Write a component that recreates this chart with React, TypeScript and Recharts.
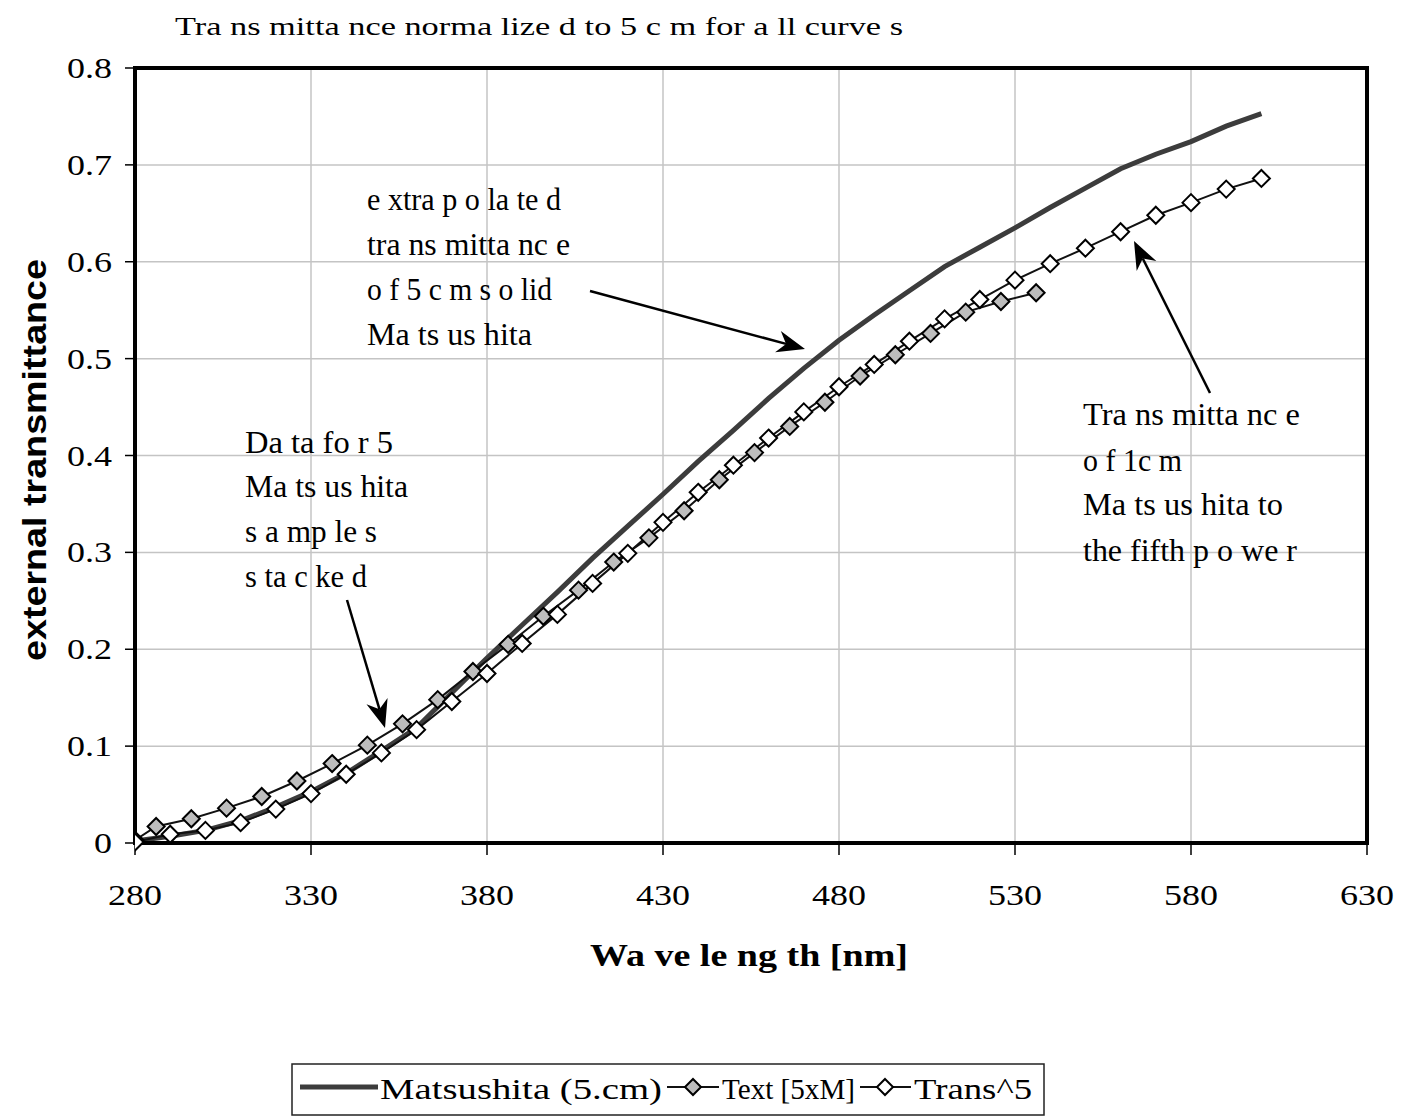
import { LineChart, Line, XAxis, YAxis, CartesianGrid, ReferenceArea } from 'recharts'

// Matsushita 5 cm (extrapolated), every 10 nm
const matsWavelength = [280, 290, 300, 310, 320, 330, 340, 350, 360, 370, 380, 390, 400, 410, 420, 430, 440, 450, 460, 470, 480, 490, 500, 510, 520, 530, 540, 550, 560, 570, 580, 590, 600]
const matsValues = [0.002, 0.007, 0.013, 0.023, 0.037, 0.053, 0.072, 0.095, 0.119, 0.155, 0.191, 0.225, 0.259, 0.294, 0.327, 0.360, 0.394, 0.426, 0.459, 0.490, 0.519, 0.545, 0.570, 0.595, 0.615, 0.635, 0.656, 0.676, 0.696, 0.711, 0.724, 0.740, 0.753]

// stacked samples
const textWavelength = [280, 286, 296, 306, 316, 326, 336, 346, 356, 366, 376, 386, 396, 406, 416, 426, 436, 446, 456, 466, 476, 486, 496, 506, 516, 526, 536]
const textValues = [0.003, 0.017, 0.025, 0.036, 0.048, 0.064, 0.082, 0.101, 0.123, 0.148, 0.177, 0.205, 0.234, 0.261, 0.290, 0.315, 0.343, 0.375, 0.403, 0.430, 0.455, 0.482, 0.504, 0.526, 0.548, 0.559, 0.568]

// 1 cm to the fifth power
const transWavelength = [280, 290, 300, 310, 320, 330, 340, 350, 360, 370, 380, 390, 400, 410, 420, 430, 440, 450, 460, 470, 480, 490, 500, 510, 520, 530, 540, 550, 560, 570, 580, 590, 600]
const transValues = [0.001, 0.009, 0.013, 0.021, 0.035, 0.051, 0.071, 0.093, 0.117, 0.146, 0.175, 0.206, 0.236, 0.268, 0.299, 0.331, 0.362, 0.390, 0.418, 0.445, 0.471, 0.494, 0.518, 0.541, 0.561, 0.581, 0.598, 0.614, 0.631, 0.648, 0.661, 0.675, 0.686]

const xTicks = [280, 330, 380, 430, 480, 530, 580, 630]
const yTicks = [0, 0.1, 0.2, 0.3, 0.4, 0.5, 0.6, 0.7, 0.8]
const xMinorTicks = [280, 290, 300, 310, 320, 330, 340, 350, 360, 370, 380, 390, 400, 410, 420, 430, 440, 450, 460, 470, 480, 490, 500, 510, 520, 530, 540, 550, 560, 570, 580, 590, 600, 610, 620, 630]
const yMinorTicks = [0, 0.02, 0.04, 0.06, 0.08, 0.1, 0.12, 0.14, 0.16, 0.18, 0.2, 0.22, 0.24, 0.26, 0.28, 0.3, 0.32, 0.34, 0.36, 0.38, 0.4, 0.42, 0.44, 0.46, 0.48, 0.5, 0.52, 0.54, 0.56, 0.58, 0.6, 0.62, 0.64, 0.66, 0.68, 0.7, 0.72, 0.74, 0.76, 0.78, 0.8]

const SERIF = '"Liberation Serif", Tinos, "Nimbus Roman", "DejaVu Serif", serif'
const SANS = '"Liberation Sans", Arial, sans-serif'

const toPoints = (xs: number[], ys: number[]) => xs.map((x, i) => ({ x, y: ys[i] }))

const matsData = toPoints(matsWavelength, matsValues)
const textData = toPoints(textWavelength, textValues)
const transData = toPoints(transWavelength, transValues)

function diamondPath(cx: number, cy: number, r: number) {
  return `M${cx},${cy - r}L${cx + r},${cy}L${cx},${cy + r}L${cx - r},${cy}Z`
}

function makeDot(fill: string) {
  return (props: any) => {
    const { cx, cy, index } = props
    if (cx == null || cy == null) return <g key={index} />
    return <path key={index} d={diamondPath(cx, cy, 8.5)} fill={fill} stroke="#000" strokeWidth={2} />
  }
}

// Times-like widths so the labels keep the width of the original
const labelWidth = (s: string) => s.split('').reduce((w, c) => w + (c === '.' ? 0.25 : 0.5), 0) * 36

function XTick(props: any) {
  const { x, y, payload } = props
  const s = String(payload.value)
  return (
    <text x={x} y={y + 22} textAnchor="middle" fontFamily={SERIF} fontSize={29} fill="#000" textLength={labelWidth(s)} lengthAdjust="spacingAndGlyphs">
      {s}
    </text>
  )
}

function YTick(props: any) {
  const { x, y, payload } = props
  const s = String(payload.value)
  return (
    <text x={x} y={y + 10} textAnchor="end" fontFamily={SERIF} fontSize={29} fill="#000" textLength={labelWidth(s)} lengthAdjust="spacingAndGlyphs">
      {s}
    </text>
  )
}

function Arrow({ x1, y1, x2, y2 }: { x1: number; y1: number; x2: number; y2: number }) {
  const dx = x2 - x1
  const dy = y2 - y1
  const len = Math.hypot(dx, dy)
  const ux = dx / len
  const uy = dy / len
  const hl = 28
  const hw = 11
  const bx = x2 - ux * hl
  const by = y2 - uy * hl
  const nx = x2 - ux * hl * 0.7
  const ny = y2 - uy * hl * 0.7
  const pts = `${x2},${y2} ${bx - uy * hw},${by + ux * hw} ${nx},${ny} ${bx + uy * hw},${by - ux * hw}`
  return (
    <g>
      <line x1={x1} y1={y1} x2={nx} y2={ny} stroke="#000" strokeWidth={2.5} />
      <polygon points={pts} fill="#000" />
    </g>
  )
}

function Note({ x, lines }: { x: number; lines: [string, number, number][] }) {
  return (
    <g>
      {lines.map(([t, y, w], i) => (
        <text key={i} x={x} y={y} fontFamily={SERIF} fontSize={31} textLength={w} lengthAdjust="spacingAndGlyphs" fill="#000">
          {t}
        </text>
      ))}
    </g>
  )
}

export default function App() {
  return (
    <div style={{ position: 'absolute', left: 0, top: 0, width: 1406, height: 1120, background: '#fff' }}>
      <LineChart
        width={1406}
        height={1120}
        margin={{ top: 68, right: 39, bottom: 217, left: 55 }}
        style={{ position: 'absolute', left: 0, top: 0 }}
      >
        <CartesianGrid stroke="#c4c4c4" strokeWidth={1.5} />
        <XAxis
          dataKey="x"
          type="number"
          domain={[280, 630]}
          ticks={xTicks}
          height={60}
          tickSize={12}
          tickMargin={28}
          axisLine={{ stroke: '#000', strokeWidth: 4 }}
          tickLine={{ stroke: '#000', strokeWidth: 1.5 }}
          tick={<XTick />}
          allowDataOverflow
        />
        <XAxis
          xAxisId="minor"
          dataKey="x"
          type="number"
          domain={[280, 630]}
          ticks={xMinorTicks}
          mirror
          tickSize={7}
          axisLine={false}
          tickLine={{ stroke: '#000', strokeWidth: 1.5 }}
          tickFormatter={() => ''}
        />
        <YAxis
          type="number"
          domain={[0, 0.8]}
          ticks={yTicks}
          width={80}
          tickSize={10}
          tickMargin={13}
          axisLine={{ stroke: '#000', strokeWidth: 4 }}
          tickLine={{ stroke: '#000', strokeWidth: 1.5 }}
          tick={<YTick />}
        />
        <YAxis
          yAxisId="minor"
          type="number"
          domain={[0, 0.8]}
          ticks={yMinorTicks}
          mirror
          tickSize={6}
          axisLine={false}
          tickLine={{ stroke: '#000', strokeWidth: 1.5 }}
          tickFormatter={() => ''}
        />
        <ReferenceArea x1={280} x2={630} y1={0} y2={0.8} fill="none" fillOpacity={0} stroke="#000" strokeWidth={4} />
        <Line
          data={matsData}
          dataKey="y"
          name="Matsushita (5.cm)"
          type="linear"
          stroke="#3c3c3c"
          strokeWidth={5}
          dot={false}
          isAnimationActive={false}
        />
        <Line
          data={textData}
          dataKey="y"
          name="Text [5xM]"
          type="linear"
          stroke="#111"
          strokeWidth={2}
          dot={makeDot('#bdbdbd')}
          isAnimationActive={false}
        />
        <Line
          data={transData}
          dataKey="y"
          name="Trans^5"
          type="linear"
          stroke="#111"
          strokeWidth={2}
          dot={makeDot('#fff')}
          isAnimationActive={false}
        />
      </LineChart>

      <svg width={1406} height={1120} style={{ position: 'absolute', left: 0, top: 0, pointerEvents: 'none' }}>
        <text x={175} y={35} fontFamily={SERIF} fontSize={26} textLength={728} lengthAdjust="spacingAndGlyphs">
          Tra ns mitta nce norma lize d to 5 c m for a ll curve s
        </text>
        <text
          x={0}
          y={0}
          transform="translate(46,460) rotate(-90)"
          textAnchor="middle"
          fontFamily={SANS}
          fontWeight="bold"
          fontSize={33}
          textLength={402}
          lengthAdjust="spacingAndGlyphs"
        >
          external transmittance
        </text>
        <text x={590} y={966} fontFamily={SERIF} fontWeight="bold" fontSize={31} textLength={318} lengthAdjust="spacingAndGlyphs">
          Wa ve le ng th  [nm]
        </text>

        <Note
          x={367}
          lines={[
            ['e xtra p o la te d', 210, 194],
            ['tra ns mitta nc e', 255, 203],
            ['o f 5 c m  s o lid', 300, 185],
            ['Ma ts us hita', 345, 165],
          ]}
        />
        <Note
          x={245}
          lines={[
            ['Da ta  fo r 5', 453, 148],
            ['Ma ts us hita', 497, 163],
            ['s a mp le s', 542, 132],
            ['s ta c ke d', 587, 122],
          ]}
        />
        <Note
          x={1083}
          lines={[
            ['Tra ns mitta nc e', 425, 217],
            ['o f 1c m', 471, 99],
            ['Ma ts us hita  to', 515, 200],
            ['the  fifth p o we r', 561, 214],
          ]}
        />

        <Arrow x1={590} y1={291} x2={805} y2={349} />
        <Arrow x1={347} y1={600} x2={385} y2={728} />
        <Arrow x1={1210} y1={393} x2={1134} y2={241} />

        <g>
          <rect x={292} y={1064} width={752} height={51} fill="#fff" stroke="#222" strokeWidth={1.5} />
          <line x1={300} y1={1087} x2={378} y2={1087} stroke="#3c3c3c" strokeWidth={5} />
          <text x={380} y={1099} fontFamily={SERIF} fontSize={30} textLength={282} lengthAdjust="spacingAndGlyphs">
            Matsushita (5.cm)
          </text>
          <line x1={667} y1={1087} x2={719} y2={1087} stroke="#111" strokeWidth={2} />
          <path d={diamondPath(693, 1087, 8)} fill="#bdbdbd" stroke="#000" strokeWidth={2} />
          <text x={722} y={1099} fontFamily={SERIF} fontSize={30} textLength={133} lengthAdjust="spacingAndGlyphs">
            Text [5xM]
          </text>
          <line x1={860} y1={1087} x2={911} y2={1087} stroke="#111" strokeWidth={2} />
          <path d={diamondPath(885, 1087, 8)} fill="#fff" stroke="#000" strokeWidth={2} />
          <text x={914} y={1099} fontFamily={SERIF} fontSize={30} textLength={118} lengthAdjust="spacingAndGlyphs">
            Trans^5
          </text>
        </g>
      </svg>
    </div>
  )
}
